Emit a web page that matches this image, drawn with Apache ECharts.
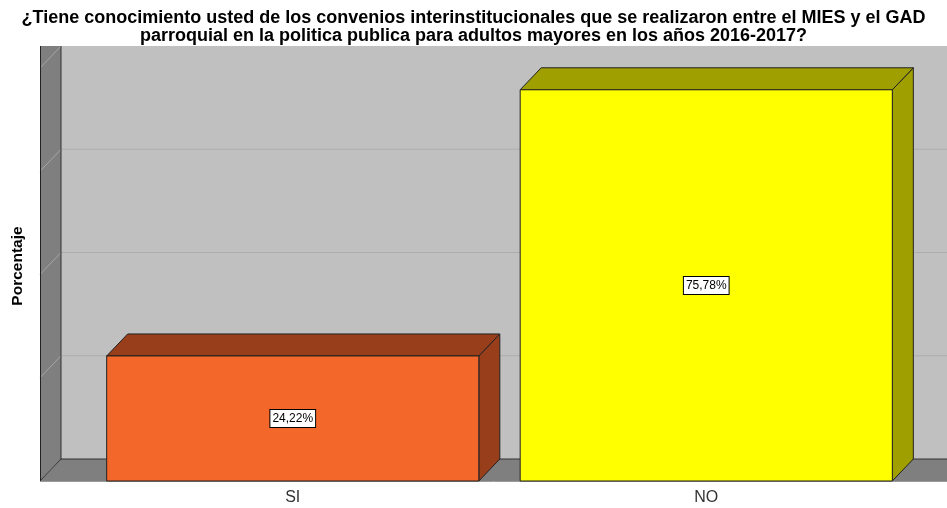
<!DOCTYPE html>
<html>
<head>
<meta charset="utf-8">
<script src="https://cdn.jsdelivr.net/npm/echarts@6/dist/echarts.min.js"></script>
<style>
  html, body { margin: 0; padding: 0; background: #fff; }
  #chart { width: 947px; height: 508px; }
</style>
</head>
<body>
<div id="chart"></div>
<script>
const categories = ['SI', 'NO'];
const values = [24.22, 75.78];
const valueLabels = ['24,22%', '75,78%'];
const yTicks = [0, 20, 40, 60, 80];

const frontColors = ['#f4672a', '#ffff00'];
const shadeColors = ['#983e1b', '#a09f00'];

// 3D look: depth offset of the back plane
const DX = 21;
const DY = 22;
const FRONT_LEFT = 40;
const RIGHT = 947;
const FONT = '"Liberation Sans", Arial, sans-serif';

const chart = echarts.init(document.getElementById('chart'));

function renderFrame(params, api) {
  const y0 = api.coord([0, 0])[1];
  const yTop = api.coord([0, yTicks[yTicks.length - 1]])[1] - DY;
  const bx = FRONT_LEFT + DX;
  const children = [];
  // back wall
  children.push({ type: 'rect', shape: { x: bx, y: yTop, width: RIGHT - bx, height: y0 - DY - yTop },
    style: { fill: '#c0c0c0' } });
  // left wall
  children.push({ type: 'polygon', shape: { points: [[FRONT_LEFT, yTop], [bx, yTop], [bx, y0 - DY], [FRONT_LEFT, y0]] },
    style: { fill: '#7f7f7f' } });
  // floor
  children.push({ type: 'polygon', shape: { points: [[FRONT_LEFT, y0], [bx, y0 - DY], [RIGHT, y0 - DY], [RIGHT, y0]] },
    style: { fill: '#7f7f7f' } });
  yTicks.slice(1).forEach(function (v) {
    const yf = api.coord([0, v])[1];
    if (v < yTicks[yTicks.length - 1]) {
      children.push({ type: 'line', shape: { x1: bx, y1: yf - DY, x2: RIGHT, y2: yf - DY },
        style: { stroke: '#adadad', lineWidth: 1 } });
    }
    children.push({ type: 'line', shape: { x1: FRONT_LEFT, y1: yf, x2: bx, y2: yf - DY },
      style: { stroke: '#a6a6a6', lineWidth: 1 } });
  });
  // edges
  children.push({ type: 'line', shape: { x1: bx, y1: yTop, x2: bx, y2: y0 - DY }, style: { stroke: '#333', lineWidth: 1 } });
  children.push({ type: 'line', shape: { x1: bx, y1: y0 - DY, x2: RIGHT, y2: y0 - DY }, style: { stroke: '#333', lineWidth: 1 } });
  children.push({ type: 'line', shape: { x1: FRONT_LEFT, y1: y0, x2: bx, y2: y0 - DY }, style: { stroke: '#333', lineWidth: 1 } });
  children.push({ type: 'line', shape: { x1: FRONT_LEFT + 0.5, y1: yTop, x2: FRONT_LEFT + 0.5, y2: y0 }, style: { stroke: '#222', lineWidth: 1 } });
  children.push({ type: 'line', shape: { x1: FRONT_LEFT, y1: y0 + 0.5, x2: RIGHT, y2: y0 + 0.5 }, style: { stroke: '#9a9a9a', lineWidth: 1 } });
  return { type: 'group', children: children };
}

function renderBar(params, api) {
  const i = api.value(0);
  const v = api.value(1);
  const top = api.coord([i, v]);
  const base = api.coord([i, 0]);
  const w = api.size([1, 0])[0] * 0.9;
  const x1 = top[0] - w / 2;
  const x2 = top[0] + w / 2;
  const yt = top[1];
  const yb = base[1];
  const edge = { stroke: '#222', lineWidth: 1 };
  return {
    type: 'group',
    children: [
      { type: 'polygon', shape: { points: [[x2, yt], [x2 + DX, yt - DY], [x2 + DX, yb - DY], [x2, yb]] },
        style: Object.assign({ fill: shadeColors[i] }, edge) },
      { type: 'polygon', shape: { points: [[x1, yt], [x1 + DX, yt - DY], [x2 + DX, yt - DY], [x2, yt]] },
        style: Object.assign({ fill: shadeColors[i] }, edge) },
      { type: 'rect', shape: { x: x1, y: yt, width: w, height: yb - yt },
        style: Object.assign({ fill: frontColors[i] }, edge) },
      { type: 'text', style: {
          text: valueLabels[i], x: top[0], y: (yt + yb) / 2,
          align: 'center', verticalAlign: 'middle',
          fill: '#000', fontSize: 12, fontFamily: FONT,
          backgroundColor: '#fff', borderColor: '#000', borderWidth: 1,
          padding: [3, 2, 2, 2]
        } }
    ]
  };
}

chart.setOption({
  animation: false,
  title: {
    text: '¿Tiene conocimiento usted de los convenios interinstitucionales que se realizaron entre el MIES y el GAD\nparroquial en la politica publica para adultos mayores en los años 2016-2017?',
    left: 'center',
    top: 4,
    textStyle: { fontSize: 18, fontWeight: 'bold', color: '#000', lineHeight: 18, fontFamily: FONT }
  },
  graphic: [{
    type: 'text',
    x: 18,
    y: 266,
    rotation: Math.PI / 2,
    style: {
      text: 'Porcentaje', align: 'center', verticalAlign: 'middle',
      fontSize: 15.5, fontWeight: 'bold', fill: '#000', fontFamily: FONT
    }
  }],
  grid: { left: 86, right: 34, top: 68, bottom: 27 },
  xAxis: {
    type: 'category',
    data: categories,
    axisLine: { show: false },
    axisTick: { show: false },
    axisLabel: { fontSize: 16, color: '#333', margin: 9, fontFamily: FONT },
    splitLine: { show: false }
  },
  yAxis: {
    type: 'value',
    min: 0,
    max: 80,
    interval: 20,
    axisLabel: { show: false },
    axisLine: { show: false },
    axisTick: { show: false },
    splitLine: { show: false }
  },
  series: [
    { type: 'custom', renderItem: renderFrame, data: [[0, 0]], silent: true, z: 1 },
    { type: 'custom', renderItem: renderBar, data: values.map(function (v, i) { return [i, v]; }), z: 2 }
  ]
});
</script>
</body>
</html>
